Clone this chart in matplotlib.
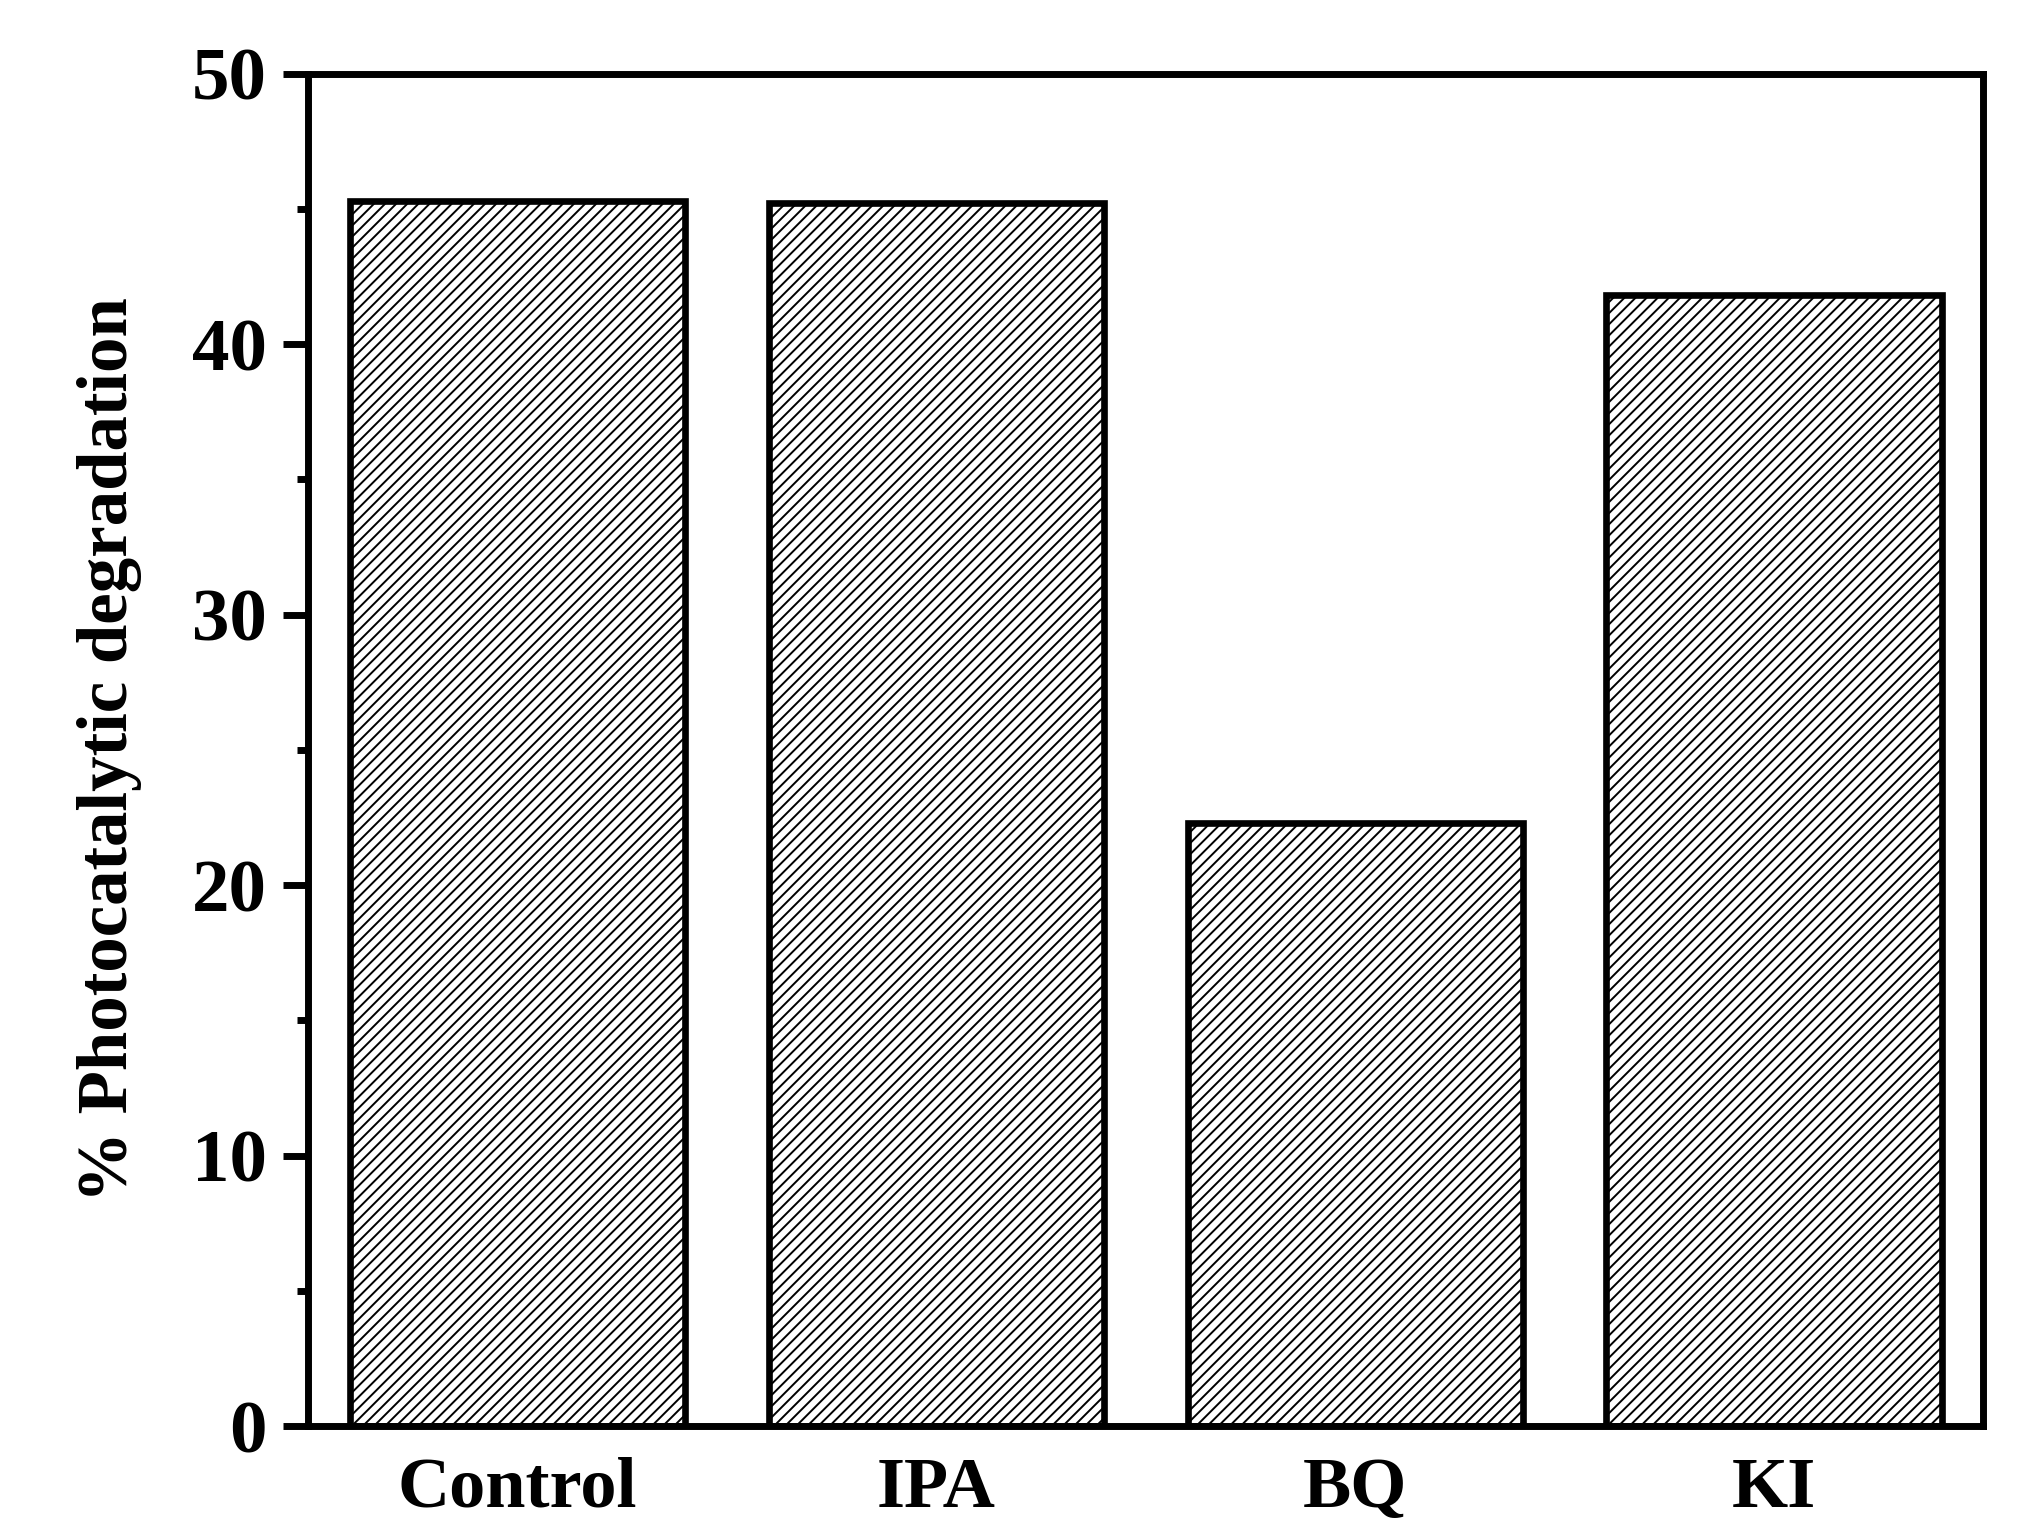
import numpy as np
import matplotlib.pyplot as plt
from matplotlib.ticker import MultipleLocator

categories = ['Control', 'IPA', 'BQ', 'KI']
degradation = [45.3, 45.2, 22.3, 41.8]

plt.rcParams['font.family'] = ['Liberation Serif', 'DejaVu Serif']
plt.rcParams['font.weight'] = 'bold'
plt.rcParams['hatch.linewidth'] = 0.7

fig = plt.figure(figsize=(10.14, 7.66), dpi=200)
ax = fig.add_axes([0.152, 0.069, 0.826, 0.883])

x = np.arange(len(categories))
ax.bar(x, degradation, width=0.8, color='white', edgecolor='black',
       linewidth=2.4, hatch='//////')

ax.set_xlim(-0.5, 3.5)
ax.set_ylim(0, 50)
ax.set_xticks(x)
ax.set_xticklabels(categories)
ax.yaxis.set_major_locator(MultipleLocator(10))
ax.yaxis.set_minor_locator(MultipleLocator(5))

for s in ax.spines.values():
    s.set_linewidth(2.5)

ax.tick_params(axis='y', which='major', direction='out', length=9, width=2.5,
               labelsize=27, pad=6)
ax.tick_params(axis='y', which='minor', direction='out', length=4, width=2.5)
ax.tick_params(axis='x', length=0, labelsize=26, pad=11)

ax.set_ylabel('% Photocatalytic degradation', fontsize=25.5, fontweight='bold',
              labelpad=18)

fig.savefig('out.png', dpi=200)
